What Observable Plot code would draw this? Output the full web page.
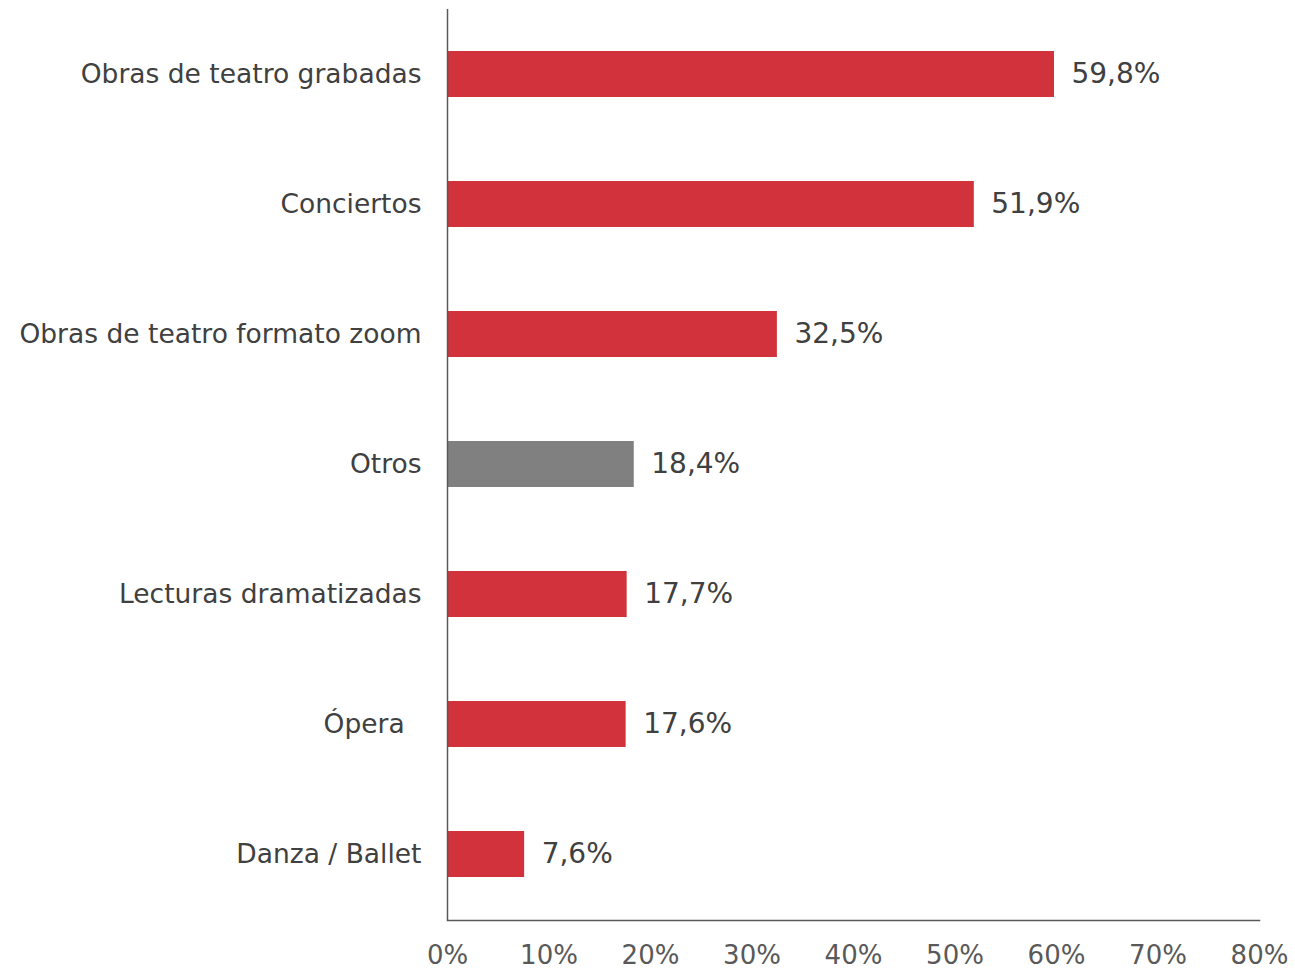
<!DOCTYPE html>
<html>
<head>
<meta charset="utf-8">
<script src="https://cdn.jsdelivr.net/npm/d3@7"></script>
<script src="https://cdn.jsdelivr.net/npm/@observablehq/plot@0.6"></script>
<style>
  html, body { margin: 0; padding: 0; background: #fff; }
  #chart { width: 1295px; height: 970px; overflow: hidden; }
</style>
</head>
<body>
<div id="chart"></div>
<script>
const categories = ["Obras de teatro grabadas", "Conciertos", "Obras de teatro formato zoom", "Otros", "Lecturas dramatizadas", "Ópera\u00a0\u00a0", "Danza / Ballet"];
const values = [59.8, 51.9, 32.5, 18.4, 17.7, 17.6, 7.6];
const labels = ["59,8%", "51,9%", "32,5%", "18,4%", "17,7%", "17,6%", "7,6%"];
const highlight = [false, false, false, true, false, false, false];
const xTicks = [0, 10, 20, 30, 40, 50, 60, 70, 80];

const data = categories.map((c, i) => ({cat: c, value: values[i], label: labels[i], other: highlight[i]}));

const chart = Plot.plot({
  width: 1295,
  height: 970,
  marginLeft: 447,
  marginRight: 36,
  marginTop: 9,
  marginBottom: 50,
  style: {fontFamily: "DejaVu Sans, Verdana, sans-serif", background: "#fff", overflow: "visible"},
  x: {domain: [0, 80]},
  y: {domain: categories, paddingInner: 0.646, paddingOuter: 0.323, align: 0.5},
  marks: [
    Plot.barX(data, {x: "value", y: "cat", fill: d => d.other ? "#808080" : "#D1323B"}),
    Plot.text(data, {x: "value", y: "cat", text: "label", textAnchor: "start", dx: 17, fontSize: 28, fill: "#404040"}),
    Plot.axisY({tickSize: 0, tickPadding: 26, fontSize: 26.5, color: "#404040", label: null}),
    Plot.axisX({ticks: xTicks, tickFormat: d => d + "%", tickSize: 0, tickPadding: 25, fontSize: 26, color: "#595959", label: null}),
    Plot.ruleX([0], {stroke: "#595959", strokeWidth: 1.5}),
    Plot.frame({anchor: "bottom", stroke: "#595959", strokeWidth: 1.5})
  ]
});
document.getElementById("chart").appendChild(chart);
</script>
</body>
</html>
